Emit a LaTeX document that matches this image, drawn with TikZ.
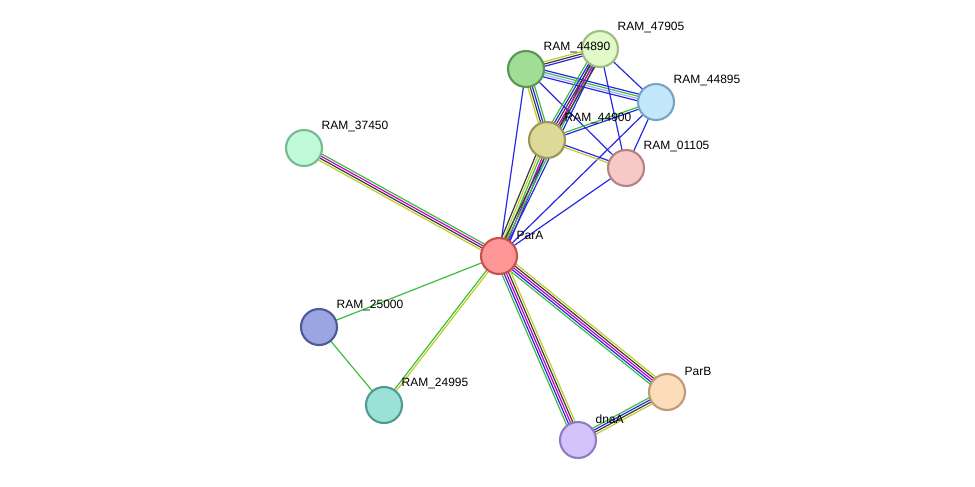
\documentclass[tikz,border=0pt]{standalone}
\usepackage{fontspec}
\setsansfont{Liberation Sans}
\usepackage{tikz}
\usetikzlibrary{positioning,calc}
\definecolor{egreen}{RGB}{60,190,60}
\definecolor{eblue}{RGB}{40,40,230}
\definecolor{emag}{RGB}{200,0,200}
\definecolor{eyel}{RGB}{190,205,40}
\definecolor{edark}{RGB}{60,60,60}
\definecolor{elav}{RGB}{170,170,255}
% parallel evidence lines between two centres
\newcommand\sedge[4]{%
  \foreach \c [count=\i] in {#4} {
    \pgfmathsetmacro\o{(\i-(#3+1)/2)*1.7}
    \draw[\c, line width=0.9pt] ($(#1)!\o pt!90:(#2)$) -- ($(#2)!\o pt!-90:(#1)$);
  }}
\begin{document}
\begin{tikzpicture}[
    x=0.75pt, y=-0.75pt,
    prot/.style={circle, draw, line width=1.6pt, minimum size=27pt, inner sep=0pt},
    lbl/.style={font=\sffamily\fontsize{9}{9}\selectfont, inner sep=1pt, anchor=south west}
]
\useasboundingbox (0,0) rectangle (975,486);

% Define node positions
\coordinate (parA) at (499,256);
\coordinate (r44890) at (526,69);
\coordinate (r47905) at (600,49);
\coordinate (r44895) at (656,102);
\coordinate (r44900) at (547,140);
\coordinate (r01105) at (626,168);
\coordinate (r37450) at (304,148);
\coordinate (r25000) at (319,327);
\coordinate (r24995) at (384,405);
\coordinate (parB) at (667,392);
\coordinate (dnaA) at (578,440);

% Draw edges
\sedge{parA}{r37450}{4}{egreen,emag,edark,eyel}
\sedge{parA}{r25000}{1}{egreen}
\sedge{parA}{r24995}{2}{egreen,eyel}
\sedge{r25000}{r24995}{1}{egreen}
\sedge{parA}{parB}{5}{egreen,eblue,emag,edark,eyel}
\sedge{parA}{dnaA}{5}{egreen,eblue,emag,edark,eyel}
\sedge{parB}{dnaA}{4}{egreen,eblue,edark,eyel}
\sedge{parA}{r44890}{1}{eblue}
\sedge{parA}{r44900}{5}{eblue,emag,egreen,eyel,edark}
\sedge{parA}{r47905}{3}{eblue,egreen,edark}
\sedge{parA}{r01105}{1}{eblue}
\sedge{parA}{r44895}{1}{eblue}
\sedge{r44890}{r47905}{3}{eblue,edark,eyel}
\sedge{r44890}{r44895}{4}{eblue,elav,egreen,eblue}
\sedge{r44890}{r44900}{4}{eyel,edark,eblue,egreen}
\sedge{r44890}{r01105}{1}{eblue}
\sedge{r47905}{r44900}{5}{egreen,eblue,edark,emag,edark}
\sedge{r47905}{r44895}{1}{eblue}
\sedge{r47905}{r01105}{1}{eblue}
\sedge{r44900}{r44895}{2}{eblue,egreen}
\sedge{r44900}{r01105}{2}{eyel,eblue}
\sedge{r44895}{r01105}{1}{eblue}

% Proteins
\node[prot, fill={rgb,255:red,255;green,150;blue,150}, draw={rgb,255:red,200;green,80;blue,80}] (nParA) at (parA) {};
\node[prot, fill={rgb,255:red,160;green,222;blue,150}, draw={rgb,255:red,90;green,150;blue,85}] (n44890) at (r44890) {};
\node[prot, fill={rgb,255:red,225;green,250;blue,200}, draw={rgb,255:red,160;green,190;blue,130}] (n47905) at (r47905) {};
\node[prot, fill={rgb,255:red,195;green,232;blue,252}, draw={rgb,255:red,120;green,165;blue,195}] (n44895) at (r44895) {};
\node[prot, fill={rgb,255:red,220;green,218;blue,150}, draw={rgb,255:red,155;green,152;blue,90}] (n44900) at (r44900) {};
\node[prot, fill={rgb,255:red,247;green,200;blue,200}, draw={rgb,255:red,185;green,130;blue,130}] (n01105) at (r01105) {};
\node[prot, fill={rgb,255:red,190;green,250;blue,215}, draw={rgb,255:red,120;green,185;blue,145}] (n37450) at (r37450) {};
\node[prot, fill={rgb,255:red,155;green,165;blue,225}, draw={rgb,255:red,80;green,90;blue,155}] (n25000) at (r25000) {};
\node[prot, fill={rgb,255:red,155;green,225;blue,215}, draw={rgb,255:red,80;green,155;blue,145}] (n24995) at (r24995) {};
\node[prot, fill={rgb,255:red,252;green,220;blue,185}, draw={rgb,255:red,190;green,155;blue,120}] (nParB) at (parB) {};
\node[prot, fill={rgb,255:red,212;green,195;blue,250}, draw={rgb,255:red,145;green,125;blue,195}] (ndnaA) at (dnaA) {};

% Labels
\node[lbl] at ($(nParA)+(16,-15)$) {ParA};
\node[lbl] at ($(n44890)+(16,-15)$) {RAM\_44890};
\node[lbl] at ($(n47905)+(16,-15)$) {RAM\_47905};
\node[lbl] at ($(n44895)+(16,-15)$) {RAM\_44895};
\node[lbl] at ($(n44900)+(16,-15)$) {RAM\_44900};
\node[lbl] at ($(n01105)+(16,-15)$) {RAM\_01105};
\node[lbl] at ($(n37450)+(16,-15)$) {RAM\_37450};
\node[lbl] at ($(n25000)+(16,-15)$) {RAM\_25000};
\node[lbl] at ($(n24995)+(16,-15)$) {RAM\_24995};
\node[lbl] at ($(nParB)+(16,-15)$) {ParB};
\node[lbl] at ($(ndnaA)+(16,-15)$) {dnaA};
\end{tikzpicture}
\end{document}
